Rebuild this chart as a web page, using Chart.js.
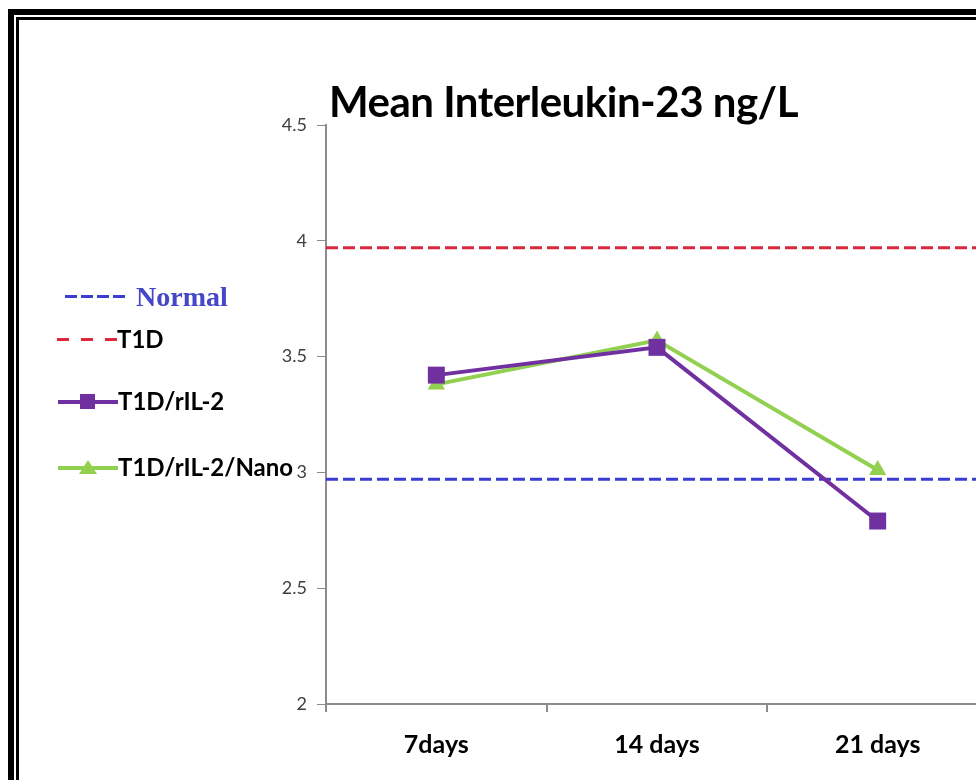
<!DOCTYPE html>
<html>
<head>
<meta charset="utf-8">
<script src="https://cdn.jsdelivr.net/npm/chart.js@4.4.1/dist/chart.umd.min.js"></script>
<style>
    body { margin: 0; background: #fff; overflow: hidden; width: 976px; height: 780px; position: relative; }
    #frame { position: absolute; left: 8px; top: 9px; width: 2000px; height: 2000px; border: 6px solid #000; }
    #frame2 { position: absolute; left: 2px; top: 2px; width: 2000px; height: 2000px; border: 3px solid #000; }
    #myChart { position: absolute; left: 0; top: 0; }
    #title { position: absolute; left: 329px; top: 76px; font: bold 42px Lato, sans-serif; letter-spacing: -0.5px; color: #000; white-space: nowrap; }
    .row { position: absolute; height: 30px; }
    .line { position: absolute; top: 14px; height: 4px; }
    .txt { position: absolute; top: 0; line-height: 30px; font: bold 24px Lato, sans-serif; color: #000; white-space: nowrap; }
    .sq { position: absolute; top: 8px; width: 15px; height: 15px; }
    .tri { position: absolute; top: 8px; width: 0; height: 0; border-left: 9px solid transparent; border-right: 9px solid transparent; border-bottom: 14px solid #92d050; }
</style>
</head>
<body>
<div id="frame"><div id="frame2"></div></div>
<canvas id="myChart" width="1000" height="780"></canvas>
<div id="title">Mean Interleukin-23 ng/L</div>

<div class="row" style="left:0;top:281px">
    <div class="line" style="left:65px;width:60px;height:3px;background:repeating-linear-gradient(90deg,#3c3cd2 0 12px,transparent 12px 16px)"></div>
    <div class="txt" style="left:136px;font:bold 28px 'Liberation Serif',serif;color:#4646c8">Normal</div>
</div>
<div class="row" style="left:0;top:324px">
    <div class="line" style="left:57px;width:64px;height:3px;background:repeating-linear-gradient(90deg,#e0283c 0 12px,transparent 12px 24px)"></div>
    <div class="txt" style="left:117px">T1D</div>
</div>
<div class="row" style="left:0;top:386px">
    <div class="line" style="left:58px;width:60px;background:#7030a0"></div>
    <div class="sq" style="left:80px;background:#7030a0"></div>
    <div class="txt" style="left:118px">T1D/rIL-2</div>
</div>
<div class="row" style="left:0;top:452px">
    <div class="line" style="left:58px;width:60px;background:#92d050"></div>
    <div class="tri" style="left:79px"></div>
    <div class="txt" style="left:118px">T1D/rIL-2/Nano</div>
</div>

<script>
const categories = ['7days', '14 days', '21 days'];
const rIL2 = [3.42, 3.54, 2.79];
const rIL2Nano = [3.38, 3.57, 3.01];
const normalLevel = 2.97;
const t1dLevel = 3.97;
const yTicks = [2, 2.5, 3, 3.5, 4, 4.5];
const yTickLabels = ['2', '2.5', '3', '3.5', '4', '4.5'];

// flat reference lines run across the whole plot, on a hidden 0..1 axis
const refLine = (v) => [{ x: 0, y: v }, { x: 1, y: v }];

const ctx = document.getElementById('myChart');

const myChart = new Chart(ctx, {
    type: 'line',
    data: {
        labels: categories,
        datasets: [
            {
                label: 'T1D/rIL-2',
                data: rIL2,
                borderColor: '#7030a0',
                backgroundColor: '#7030a0',
                borderWidth: 4,
                pointStyle: 'rect',
                pointRadius: 12,
                pointBorderWidth: 0,
                tension: 0
            },
            {
                label: 'T1D/rIL-2/Nano',
                data: rIL2Nano,
                borderColor: '#92d050',
                backgroundColor: '#92d050',
                borderWidth: 4,
                pointStyle: 'triangle',
                pointRadius: 10,
                pointBorderWidth: 0,
                tension: 0
            },
            {
                label: 'Normal',
                data: refLine(normalLevel),
                xAxisID: 'xRef',
                borderColor: '#3c3cd2',
                borderWidth: 3,
                borderDash: [12, 5],
                pointRadius: 0
            },
            {
                label: 'T1D',
                data: refLine(t1dLevel),
                xAxisID: 'xRef',
                borderColor: '#d8283c',
                borderWidth: 3,
                borderDash: [12, 5],
                pointRadius: 0
            }
        ]
    },
    options: {
        responsive: false,
        animation: false,
        layout: { padding: { left: 0, right: 10, top: 125, bottom: 0 } },
        plugins: {
            legend: { display: false },
            tooltip: { enabled: false }
        },
        scales: {
            x: {
                type: 'category',
                offset: true,
                grid: { offset: true, drawOnChartArea: false, drawTicks: true, tickLength: 8, color: '#8c8c8c', lineWidth: 2 },
                border: { color: '#8c8c8c', width: 2 },
                ticks: { padding: 18, color: '#000', font: { family: 'Lato', size: 25, weight: 'bold' } },
                afterFit: (scale) => { scale.height = 76; }
            },
            xRef: {
                type: 'linear',
                display: false,
                min: 0,
                max: 1
            },
            y: {
                min: 2,
                max: 4.5,
                afterBuildTicks: (scale) => { scale.ticks = yTicks.map(v => ({ value: v })); },
                grid: { drawOnChartArea: false, drawTicks: true, tickLength: 9, color: '#8c8c8c', lineWidth: 1 },
                border: { color: '#8c8c8c', width: 2 },
                ticks: {
                    padding: 10,
                    color: '#404040',
                    font: { family: 'Lato', size: 18 },
                    callback: (value, i) => yTickLabels[i]
                },
                afterFit: (scale) => { scale.width = 326; }
            }
        }
    }
});
</script>
</body>
</html>
